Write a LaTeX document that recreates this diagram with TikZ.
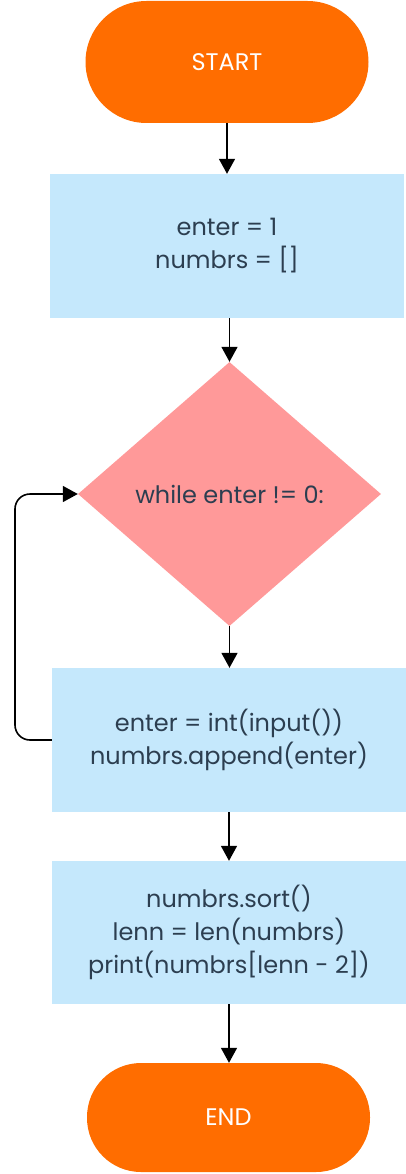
\documentclass[tikz,border=0pt]{standalone}
\usepackage{fontspec}
\setmainfont{Poppins}
\usetikzlibrary{shapes.geometric,arrows.meta}
\definecolor{termc}{HTML}{FF6D00}
\definecolor{procc}{HTML}{C5E8FC}
\definecolor{decc}{HTML}{FF9999}
\definecolor{txtc}{HTML}{2C3E50}
\tikzset{
  term/.style={rectangle, rounded corners=54pt, fill=termc, text=white, minimum width=283pt, font=\fontsize{24pt}{30pt}\selectfont},
  proc/.style={rectangle, fill=procc, text=txtc, minimum width=354pt, align=center, font=\fontsize{24pt}{33pt}\selectfont},
  dec/.style={diamond, fill=decc, text=txtc, inner sep=0pt, minimum width=303pt, minimum height=264pt, font=\fontsize{24pt}{33pt}\selectfont},
  conn/.style={line width=1.6pt, -{Triangle[width=16pt,length=15pt]}}
}
\begin{document}
\begin{tikzpicture}[x=1pt,y=1pt]
\useasboundingbox (0,0) rectangle (406,-1174);
\node[term, minimum height=122pt, rounded corners=61pt] (start) at (227,-62) {START};
\node[proc, minimum height=144pt] (b1) at (227,-246) {enter = 1\\numbrs = []};
\node[dec] (d) at (229.5,-494) {while enter != 0:};
\node[proc, minimum height=144pt] (b2) at (229,-740) {enter = int(input())\\numbrs.append(enter)};
\node[proc, minimum height=143pt] (b3) at (229,-932.5) {numbrs.sort()\\lenn = len(numbrs)\\print(numbrs[lenn - 2])};
\node[term, minimum height=109pt] (end) at (228.5,-1117.5) {END};
\coordinate (lp) at (15,-740);
\draw[conn] (start.south) -- (b1.north -| start.south);
\draw[conn] (b1.south -| d.north) -- (d.north);
\draw[conn] (d.south) -- (b2.north -| d.south);
\draw[conn] (b2.south) -- (b3.north);
\draw[conn] (b3.south) -- (end.north -| b3.south);
\draw[conn, rounded corners=15pt] (b2.west) -- (lp) |- (d.west);
\end{tikzpicture}
\end{document}
